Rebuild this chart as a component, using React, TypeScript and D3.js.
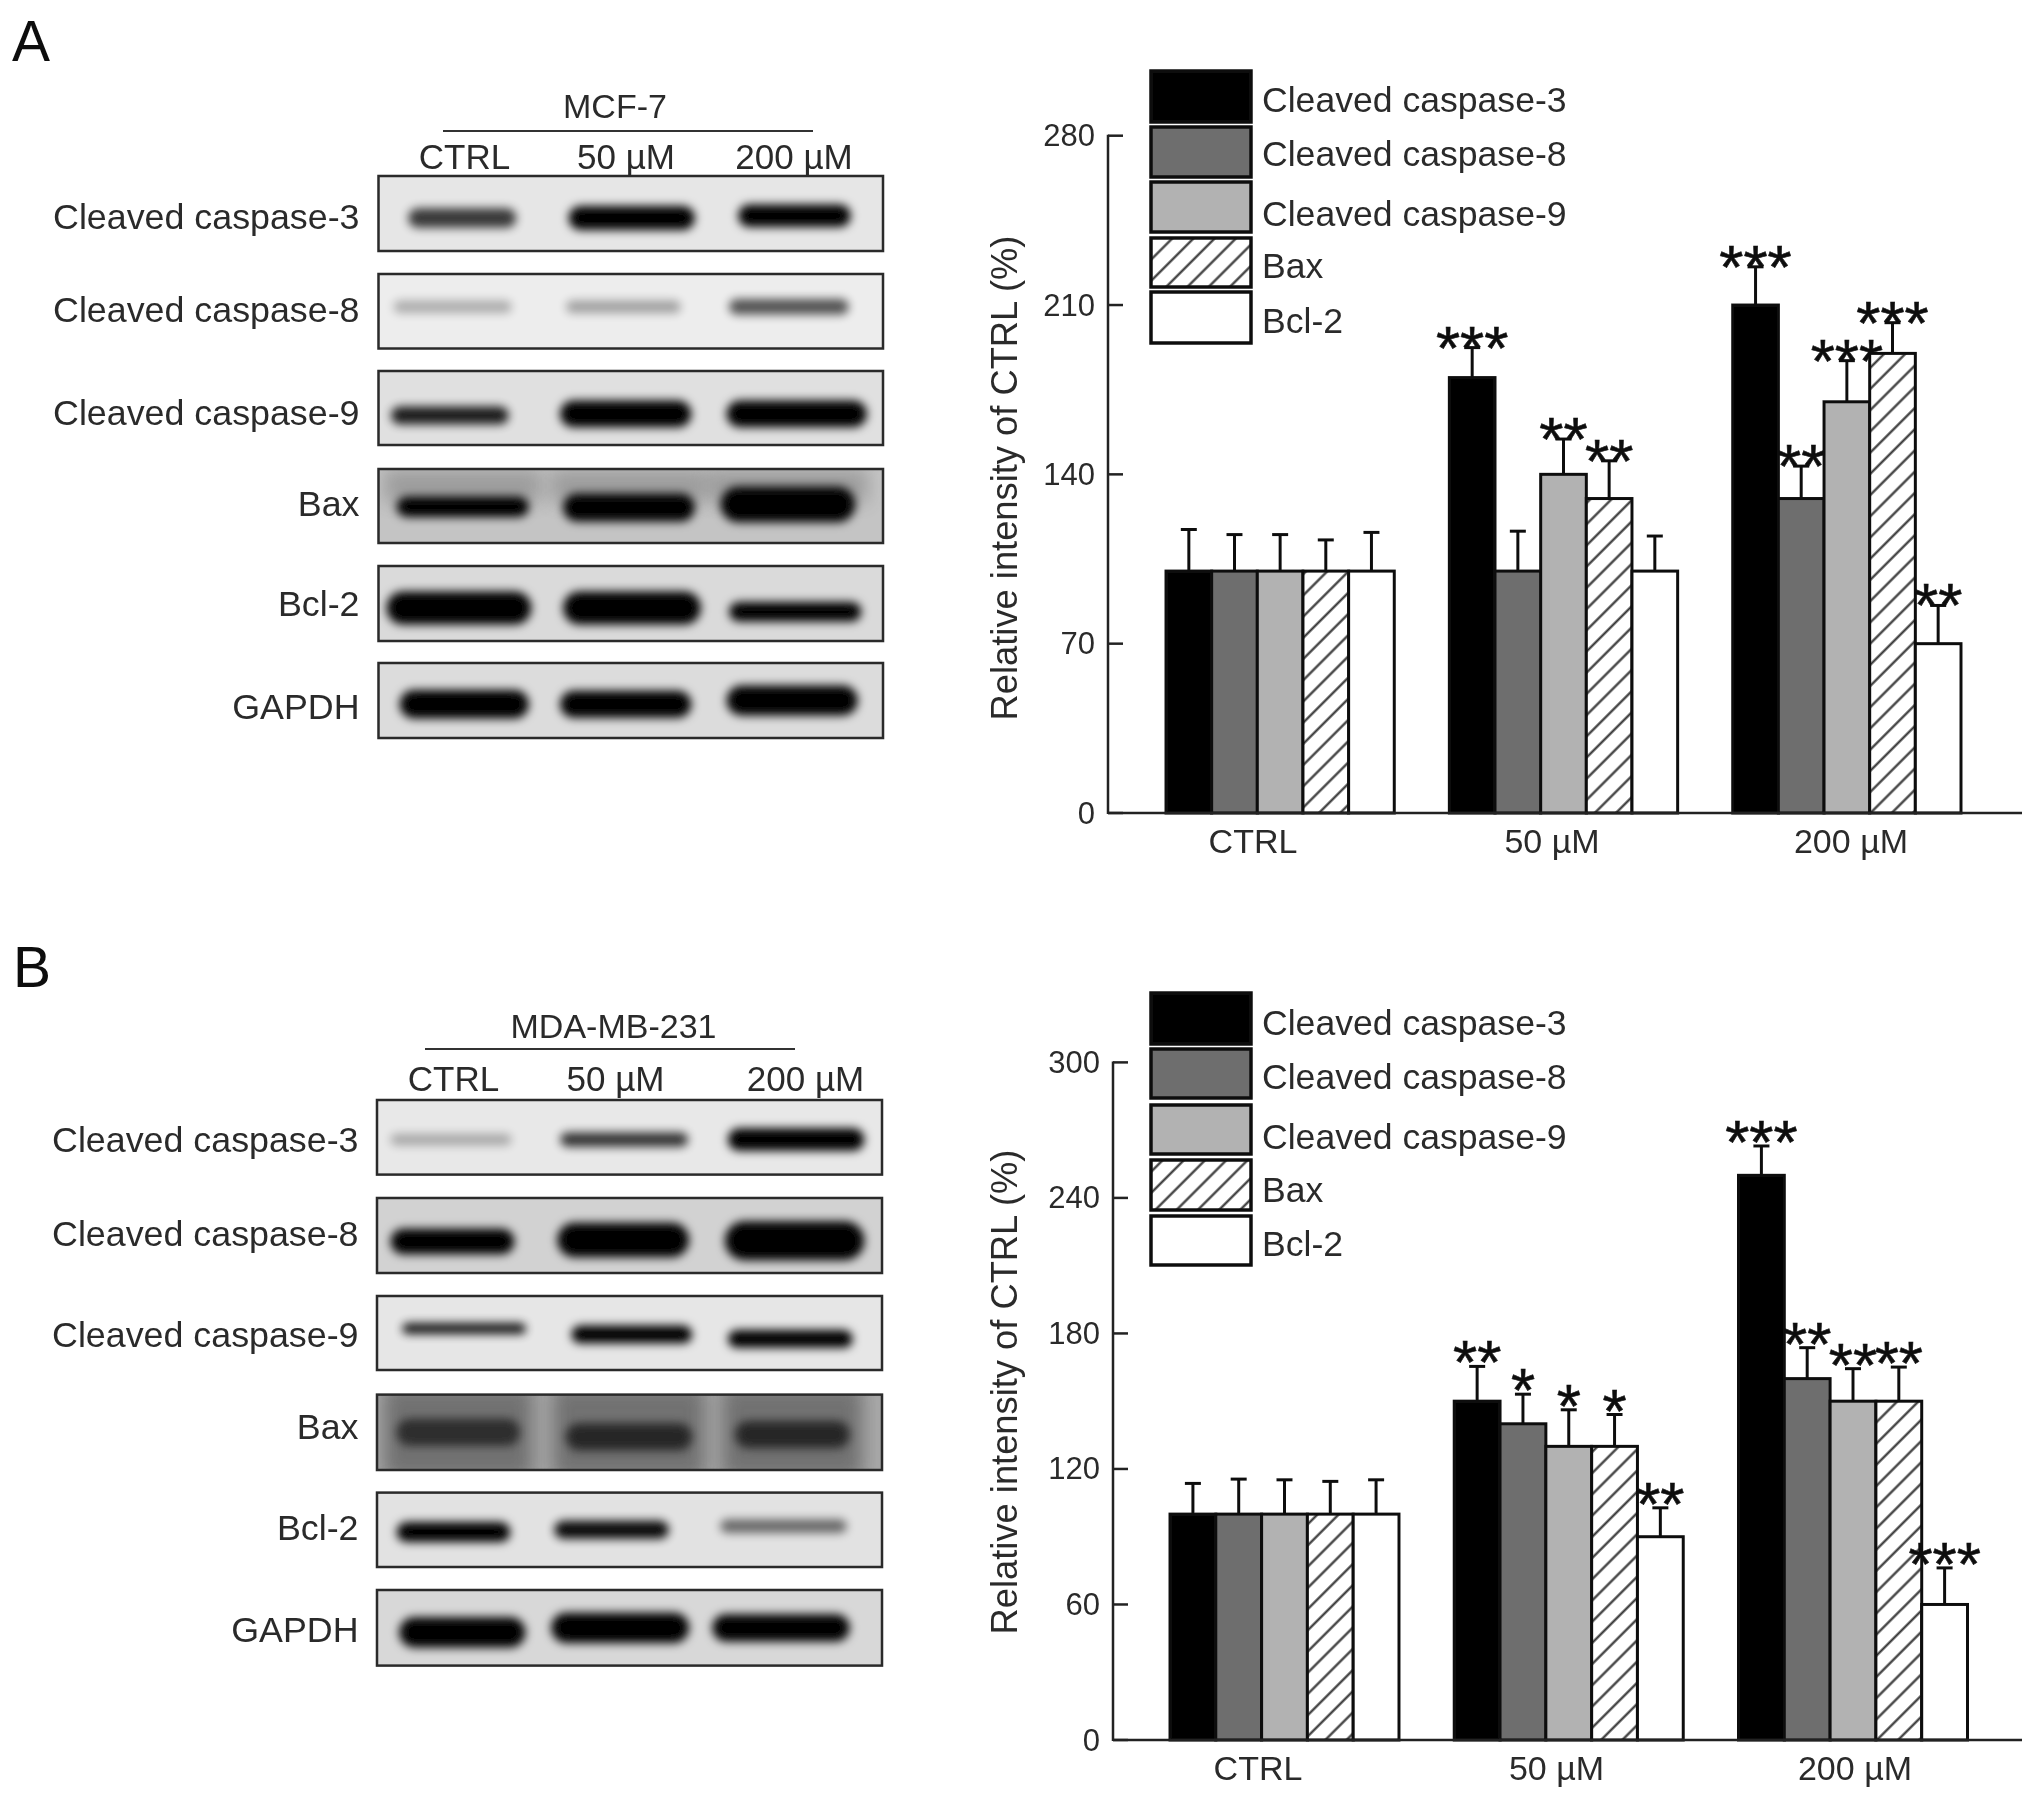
import React from "react";
import * as d3 from "d3";

const groups = ["CTRL", "50 µM", "200 µM"];
const seriesNames = ["Cleaved caspase-3", "Cleaved caspase-8", "Cleaved caspase-9", "Bax", "Bcl-2"];
const blotRows = ["Cleaved caspase-3", "Cleaved caspase-8", "Cleaved caspase-9", "Bax", "Bcl-2", "GAPDH"];

const valuesA = [[100, 100, 100, 100, 100], [180, 100, 140, 130, 100], [210, 130, 170, 190, 70]];
const errTopA = [[117.2, 115.1, 115.1, 112.9, 116], [192.4, 116.5, 154.6, 145.6, 114.5], [225.8, 143.4, 187, 202.7, 85.8]];
const starsA = [["", "", "", "", ""], ["***", "", "**", "**", ""], ["***", "**", "***", "***", "**"]];
const ticksA = [0, 70, 140, 210, 280];

const valuesB = [[100, 100, 100, 100, 100], [150, 140, 130, 130, 90], [250, 160, 150, 150, 60]];
const errTopB = [[113.6, 115.5, 115.2, 114.5, 115.2], [165.4, 153.1, 146.2, 144.1, 102.8], [263, 173.7, 164.4, 165.1, 76.2]];
const starsB = [["", "", "", "", ""], ["**", "*", "*", "*", "**"], ["***", "**", "**", "**", "***"]];
const ticksB = [0, 60, 120, 180, 240, 300];

// blot bands: [lane start %, lane end %, centre %, thickness %, darkness]
type Band = [number, number, number, number, number];
const bandsA: Band[][] = [
  [[5.9, 27.3, 56, 26, 0.75], [37.7, 62.7, 56, 32, 1], [71.3, 93.6, 53, 30, 1]],
  [[3, 26.4, 44, 17, 0.27], [37.2, 59.9, 44, 17, 0.32], [69.5, 93.2, 44, 21, 0.65]],
  [[2.5, 25.8, 60, 24, 0.88], [36, 62, 58, 36, 1], [69, 96.8, 58, 36, 1]],
  [[3.6, 29.8, 51, 28, 1], [36.6, 62.7, 52, 38, 1], [67.8, 94.5, 48, 48, 1]],
  [[1.6, 30.3, 56, 44, 1], [36.6, 63.9, 56, 44, 1], [69.5, 95.7, 61, 26, 1]],
  [[4.2, 29.8, 55, 38, 1], [36, 62, 55, 36, 1], [69, 95, 50, 40, 1]],
];
const bandsB: Band[][] = [
  [[2.7, 26.6, 53, 15, 0.28], [36.3, 61.6, 53, 19, 0.78], [69.5, 96.5, 53, 30, 1]],
  [[2.7, 27.2, 58, 34, 1], [35.7, 61.8, 56, 46, 1], [68.9, 96.5, 57, 52, 1]],
  [[5, 29.5, 44, 15, 0.9], [38.5, 62.4, 52, 24, 1], [69.5, 94.2, 58, 24, 1]],
  [[3.9, 28.3, 50, 36, 0.6], [37.4, 62.4, 56, 36, 0.65], [70.9, 93.6, 53, 36, 0.65]],
  [[3.9, 26.4, 53, 27, 1], [35.1, 57.8, 50, 24, 0.95], [68, 93, 45, 18, 0.55]],
  [[4.4, 29.4, 56, 40, 1], [34.5, 61.8, 50, 40, 1], [66.4, 93.6, 50, 36, 1]],
];
const blotGreysA = ["#e6e6e6", "#ededed", "#e0e0e0", "#c4c4c4", "#dadada", "#dcdcdc"];
const blotGreysB = ["#e8e8e8", "#d2d2d2", "#e6e6e6", "#a8a8a8", "#e2e2e2", "#d8d8d8"];

const FONT = "'Liberation Sans', Arial, sans-serif";
const INK = "#2b2b2b";

function Bars(p: any) {
  const y = d3.scaleLinear().domain(p.yDomain).range(p.yRange);
  const x0 = d3.scaleBand().domain(groups).range(p.barRange).paddingInner(55.5 / 285.5);
  const x1 = d3.scaleBand().domain(seriesNames).range([0, x0.bandwidth()]);
  const lab = d3.scalePoint().domain(groups).range(p.labelRange);
  const fills = ["#000000", "#6e6e6e", "#b2b2b2", `url(#hatch)`, "#ffffff"];
  const base = y(0);
  return (
    <g fontFamily={FONT}>
      <text transform={`translate(${p.titleX},${p.titleY}) rotate(-90)`} textAnchor="middle" dominantBaseline="central" fontSize={36.3} fill={INK}>
        Relative intensity of CTRL (%)
      </text>
      {groups.map((g, gi) =>
        seriesNames.map((s, si) => {
          const x = (x0(g) as number) + (x1(s) as number);
          const w = x1.bandwidth();
          const c = x + w / 2;
          const top = y(p.values[gi][si]);
          const et = y(p.errTop[gi][si]);
          return (
            <g key={g + s}>
              <line x1={c} x2={c} y1={top} y2={et} stroke="#111" strokeWidth={3} />
              <line x1={c - 8} x2={c + 8} y1={et} y2={et} stroke="#111" strokeWidth={3} />
              <rect x={x} y={top} width={w} height={base - top} fill={fills[si]} stroke="#111" strokeWidth={3} />
              {p.stars[gi][si] && (
                <text x={c} y={et + p.starDy} textAnchor="middle" fontSize={62} fill="#111" stroke="#111" strokeWidth={0.6}>
                  {p.stars[gi][si]}
                </text>
              )}
            </g>
          );
        })
      )}
      <line x1={p.axisX} x2={2022} y1={base} y2={base} stroke="#222" strokeWidth={2.5} />
      <line x1={p.axisX} x2={p.axisX} y1={y(p.yDomain[1]) - 1} y2={base + 1} stroke="#222" strokeWidth={2.5} />
      {p.ticks.map((t: number) => (
        <g key={t}>
          <line x1={p.axisX} x2={p.axisX + 15} y1={y(t)} y2={y(t)} stroke="#222" strokeWidth={2.5} />
          <text x={p.axisX - 13} y={y(t)} textAnchor="end" dominantBaseline="central" fontSize={31} fill={INK}>
            {t}
          </text>
        </g>
      ))}
      {groups.map((g) => (
        <text key={g} x={lab(g)} y={p.labelY} textAnchor="middle" dominantBaseline="central" fontSize={34} fill={INK}>
          {g}
        </text>
      ))}
      {seriesNames.map((s, i) => (
        <g key={s}>
          <rect x={1151} y={p.legendBoxes[i][0]} width={100} height={p.legendBoxes[i][1] - p.legendBoxes[i][0]} fill={fills[i]} stroke="#111" strokeWidth={3.5} />
          <text x={1262} y={p.legendText[i]} dominantBaseline="central" fontSize={35.6} fill={INK}>
            {s}
          </text>
        </g>
      ))}
    </g>
  );
}

function Blot(p: any) {
  const px = d3.scaleLinear().domain([0, 100]).range([p.left, p.right]);
  const lanes = !!p.showSmear;
  return (
    <g fontFamily={FONT}>
      {blotRows.map((r, i) => {
        const [t, b] = p.rows[i];
        const py = d3.scaleLinear().domain([0, 100]).range([t, b]);
        const clip = `${p.id}-clip-${i}`;
        return (
          <g key={r}>
            <clipPath id={clip}>
              <rect x={p.left} y={t} width={p.right - p.left} height={b - t} />
            </clipPath>
            <g clipPath={`url(#${clip})`}>
              <rect x={p.left} y={t} width={p.right - p.left} height={b - t} fill={p.greys[i]} />
              {r === "Bax" &&
                p.bands[i].map((bd: Band, k: number) => (
                  <rect key={"s" + k} x={px(bd[0] - 2.5)} y={py(lanes ? -10 : 0)} width={px(bd[1] + 5) - px(bd[0])} height={py(lanes ? 120 : 45) - py(0)} fill="#444" opacity={lanes ? 0.55 : 0.3} filter="url(#blurWide)" />
                ))}
              {p.bands[i].map((bd: Band, k: number) => (
                <rect key={k} x={px(bd[0])} y={py(bd[2] - bd[3] / 2)} width={px(bd[1]) - px(bd[0])} height={py(bd[3]) - py(0)} rx={(py(bd[3]) - py(0)) / 2} fill="#000" opacity={bd[4]} filter="url(#blur)" />
              ))}
            </g>
            <rect x={p.left} y={t} width={p.right - p.left} height={b - t} fill="none" stroke="#2a2a2a" strokeWidth={2.5} />
            <text x={p.labelX} y={p.labelY[i]} textAnchor="end" dominantBaseline="central" fontSize={35.8} fill={INK}>
              {r}
            </text>
          </g>
        );
      })}
      <text x={p.headX} y={p.headY} textAnchor="middle" dominantBaseline="central" fontSize={34} fill={INK}>
        {p.head}
      </text>
      <line x1={p.lineX[0]} x2={p.lineX[1]} y1={p.lineY} y2={p.lineY} stroke="#333" strokeWidth={2} />
      {groups.map((g, i) => (
        <text key={g} x={p.groupX[i]} y={p.groupY} textAnchor="middle" dominantBaseline="central" fontSize={35} fill={INK}>
          {g}
        </text>
      ))}
    </g>
  );
}

export default function App() {
  return (
    <svg width={2031} height={1798} style={{ position: "absolute", left: 0, top: 0, background: "#fff" }}>
      <defs>
        <pattern id="hatch" width={15} height={15} patternUnits="userSpaceOnUse" patternTransform="rotate(45)">
          <rect width={15} height={15} fill="#fff" />
          <line x1={7.5} x2={7.5} y1={0} y2={15} stroke="#333" strokeWidth={2.2} />
        </pattern>
        <filter id="blur" x="-30%" y="-150%" width="160%" height="400%">
          <feGaussianBlur stdDeviation={5} />
        </filter>
        <filter id="blurWide" x="-30%" y="-50%" width="160%" height="200%">
          <feGaussianBlur stdDeviation={9} />
        </filter>
        <filter id="soft" x="0" y="0" width="100%" height="100%">
          <feGaussianBlur stdDeviation={0.6} />
        </filter>
      </defs>
      <g filter="url(#soft)">
        <text x={31} y={41} textAnchor="middle" dominantBaseline="central" fontFamily={FONT} fontSize={57} fill="#111">A</text>
        <text x={32} y={967} textAnchor="middle" dominantBaseline="central" fontFamily={FONT} fontSize={57} fill="#111">B</text>

        <Blot id="a" left={378.5} right={883} rows={[[176, 251], [274, 348.5], [371, 445], [469, 543], [566, 641], [663, 738]]}
          bands={bandsA} greys={blotGreysA} labelX={359.5} labelY={[216.7, 310, 412.5, 504, 603.5, 706.7]}
          head="MCF-7" headX={615} headY={105.7} lineX={[443, 813]} lineY={131} groupX={[464.5, 626, 794]} groupY={156} />
        <Blot id="b" left={377} right={882} showSmear rows={[[1100, 1174.6], [1198, 1273], [1296, 1370], [1394.6, 1470], [1492.6, 1567], [1590, 1665.6]]}
          bands={bandsB} greys={blotGreysB} labelX={358.5} labelY={[1140, 1234, 1335, 1427, 1527.5, 1630]}
          head="MDA-MB-231" headX={613.5} headY={1026} lineX={[425, 795]} lineY={1049} groupX={[453.5, 615.5, 805.5]} groupY={1078} />

        <Bars yDomain={[0, 280]} yRange={[813, 135.7]} barRange={[1166, 1961]} labelRange={[1253, 1851]} labelY={841}
          axisX={1108} titleX={1004} titleY={478} starDy={21} values={valuesA} errTop={errTopA} stars={starsA} ticks={ticksA}
          legendBoxes={[[71, 122], [127, 177], [182, 232], [238, 287], [292, 343]]} legendText={[100, 154, 214, 266, 321]} />
        <Bars yDomain={[0, 300]} yRange={[1740, 1062.4]} barRange={[1170, 1967.5]} labelRange={[1258, 1855]} labelY={1768}
          axisX={1113} titleX={1004} titleY={1392} starDy={17} values={valuesB} errTop={errTopB} stars={starsB} ticks={ticksB}
          legendBoxes={[[993, 1044], [1049, 1098], [1105, 1154], [1160, 1210], [1216, 1265]]} legendText={[1023, 1077, 1136.5, 1190, 1243.5]} />
      </g>
    </svg>
  );
}
